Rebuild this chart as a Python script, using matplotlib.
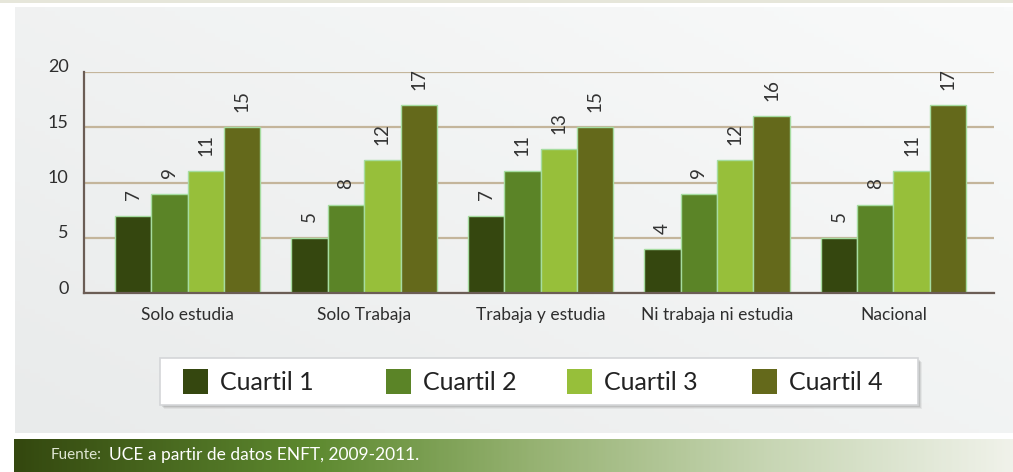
import numpy as np
import matplotlib
matplotlib.use("Agg")
import matplotlib.pyplot as plt
from matplotlib.patches import Rectangle
from matplotlib.colors import LinearSegmentedColormap
import matplotlib.transforms as mtransforms

# ---------------- data ----------------
categories = ["Solo estudia", "Solo Trabaja", "Trabaja y estudia",
              "Ni trabaja ni estudia", "Nacional"]
series_names = ["Cuartil 1", "Cuartil 2", "Cuartil 3", "Cuartil 4"]
cuartil1 = [7, 5, 7, 4, 5]
cuartil2 = [9, 8, 11, 9, 8]
cuartil3 = [11, 12, 13, 12, 11]
cuartil4 = [15, 17, 15, 16, 17]
yticks = [0, 5, 10, 15, 20]
source_label = "Fuente:"
source_text = "UCE a partir de datos ENFT, 2009-2011."

series = [cuartil1, cuartil2, cuartil3, cuartil4]
colors = ["#35470f", "#5b8427", "#97bf3a", "#64691b"]
edge = "#a6dca0"
narrow = ["Lato", "DejaVu Sans"]
legfont = ["Lato", "DejaVu Sans"]

W, H = 1013, 472
fig = plt.figure(figsize=(W / 100, H / 100), dpi=100)
fig.patch.set_facecolor("white")

def fx(px):
    return px / W

def fy(py):
    return 1 - py / H

# top beige strip
fig.patches.append(Rectangle((0, fy(2.5)), 1, 2.5 / H, transform=fig.transFigure,
                             facecolor="#e6e6da", edgecolor="none", zorder=0))

# background panel gradient
bg = fig.add_axes([fx(15), fy(433), 1 - fx(15), (433 - 7) / H], zorder=-10)
gx = np.linspace(0, 1, 200)
gy = np.linspace(0, 1, 100)
GX, GY = np.meshgrid(gx, gy)
val = 0.55 * GX + 0.45 * (1 - GY)
cm_bg = LinearSegmentedColormap.from_list("bg", ["#e9ebeb", "#f9fafa"])
bg.imshow(val, cmap=cm_bg, aspect="auto", extent=[0, 1, 0, 1], origin="upper")
bg.set_axis_off()

# footer band
ft = fig.add_axes([fx(14), 0, 1 - fx(14), (472 - 439) / H], zorder=-10)
cm_ft = LinearSegmentedColormap.from_list(
    "ft", [(0.0, "#34480f"), (0.3, "#5e8a30"), (0.52, "#96b272"),
           (0.75, "#c6d5b2"), (1.0, "#f0f2ea")])
ft.imshow(np.linspace(0, 1, 400)[None, :], cmap=cm_ft, aspect="auto",
          extent=[0, 1, 0, 1])
ft.set_axis_off()
fig.text(fx(51), fy(455), source_label, family=narrow, fontsize=11,
         color="#dfe6d2", va="center", ha="left")
fig.text(fx(109), fy(455), source_text, family=legfont, fontsize=12.5,
         color="white", va="center", ha="left")

# main axes
ax = fig.add_axes([fx(84), fy(293), (994 - 84) / W, (293 - 72) / H])
ax.set_facecolor("none")
x = np.arange(len(categories))
bw = 0.206
for i, (vals, c) in enumerate(zip(series, colors)):
    xs = x + (i - 1.5) * bw
    ax.bar(xs, vals, width=bw, color=c, edgecolor=edge, linewidth=1.0,
           zorder=3)
    for xi, v in zip(xs, vals):
        ax.annotate(str(v), (xi, v), xytext=(0, 11), textcoords="offset points",
                    rotation=90, ha="center", va="bottom", fontsize=13.5,
                    family=narrow, color="#333333", zorder=4)

ax.set_xlim(-0.588, 4.570)
ax.set_ylim(0, 20)
ax.set_yticks(yticks)
ax.set_yticklabels([str(t) for t in yticks], family=narrow, fontsize=13,
                   color="#2e2e2e")
ax.set_xticks(x)
ax.set_xticklabels(categories, family=narrow, fontsize=12.5, color="#2e2e2e")
ax.tick_params(axis="both", length=0)
ax.tick_params(axis="y", pad=11)
ax.tick_params(axis="x", pad=10)
off = mtransforms.ScaledTranslation(0, 6 / 100, fig.dpi_scale_trans)
for lab in ax.get_yticklabels():
    lab.set_transform(lab.get_transform() + off)
ax.yaxis.grid(True, color="#c4b59b", linewidth=1.6, zorder=1)
ax.set_axisbelow(True)
for s in ["top", "right"]:
    ax.spines[s].set_visible(False)
for s in ["left", "bottom"]:
    ax.spines[s].set_color("#6b5d55")
    ax.spines[s].set_linewidth(1.6)
    ax.spines[s].set_zorder(5)

# legend box (manual)
lx0, lx1, ly0, ly1 = 160, 918, 358, 405
for k, a in [(4, 0.05), (3, 0.07), (2, 0.09)]:
    fig.patches.append(Rectangle((fx(lx0 + k), fy(ly1 + k)), (lx1 - lx0) / W,
                                 (ly1 - ly0) / H, transform=fig.transFigure,
                                 facecolor="black", alpha=a, edgecolor="none",
                                 zorder=1))
fig.patches.append(Rectangle((fx(lx0), fy(ly1)), (lx1 - lx0) / W,
                             (ly1 - ly0) / H, transform=fig.transFigure,
                             facecolor="white", edgecolor="#d4d6d8",
                             linewidth=1.2, zorder=2))
sq_x = [183, 386, 567, 752]
for name, c, sx in zip(series_names, colors, sq_x):
    fig.patches.append(Rectangle((fx(sx), fy(394)), 25 / W, 25 / H,
                                 transform=fig.transFigure, facecolor=c,
                                 edgecolor="none", zorder=3))
    fig.text(fx(sx + 37), fy(382), name, family=legfont, fontsize=18,
             color="#222222", va="center", ha="left", zorder=4)

fig.savefig("out.png", dpi=100, facecolor="white")
